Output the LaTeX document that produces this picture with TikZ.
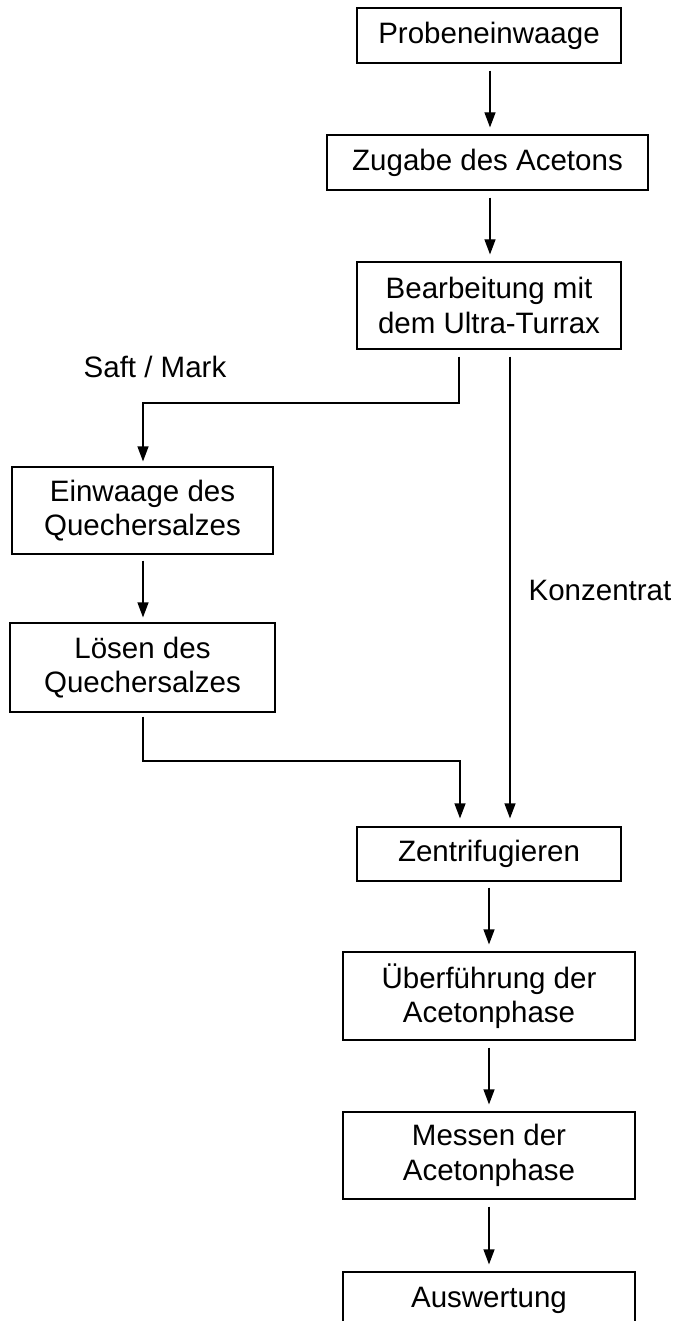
\documentclass[tikz,border=0pt]{standalone}
\usepackage{fontspec}
\setmainfont{Liberation Sans}
\usetikzlibrary{arrows.meta}
\begin{document}
\begin{tikzpicture}[x=1pt,y=-1pt,
  stepbox/.style={draw=black, line width=1.2pt, inner sep=0pt, align=center,
    font=\fontsize{29.5}{34.5}\selectfont},
  lbl/.style={inner sep=0pt, font=\fontsize{29.5}{34.5}\selectfont},
  arr/.style={draw=black, line width=1.2pt, -{Triangle[length=15pt,width=11pt]}}]
\useasboundingbox (0,0) rectangle (677,1321);
\node[stepbox, minimum width=264pt, minimum height=55pt] (b1) at (489,35.5) {Probeneinwaage};
\node[stepbox, minimum width=321pt, minimum height=55pt] (b2) at (487.5,162.5) {Zugabe des Acetons};
\node[stepbox, minimum width=264pt, minimum height=87pt] (b3) at (489,305.5) {Bearbeitung mit\\dem Ultra-Turrax};
\node[stepbox, minimum width=261pt, minimum height=87pt] (b4) at (142.5,510.5) {Einwaage des\\Quechersalzes};
\node[stepbox, minimum width=265pt, minimum height=89pt] (b5) at (142.5,667.5) {Lösen des\\Quechersalzes};
\node[stepbox, minimum width=264pt, minimum height=54pt] (b6) at (489,854) {Zentrifugieren};
\node[stepbox, minimum width=292pt, minimum height=88pt] (b7) at (489,996) {Überführung der\\Acetonphase};
\node[stepbox, minimum width=292pt, minimum height=87pt] (b8) at (489,1155.5) {Messen der\\Acetonphase};
\node[stepbox, minimum width=292pt, minimum height=56pt] (b9) at (489,1300) {Auswertung};
\node[lbl] (saft) at (155,367) {Saft / Mark};
\node[lbl] (konz) at (600,590) {Konzentrat};
\coordinate (s1) at (459,403);
\coordinate (s2) at (143,403);
\coordinate (l1) at (460,761);
\draw[arr] ([xshift=1pt,yshift=-7pt]b1.south) -- ([xshift=2.5pt,yshift=7pt]b2.north);
\draw[arr] ([xshift=2.5pt,yshift=-7pt]b2.south) -- ([xshift=1pt,yshift=7pt]b3.north);
\draw[arr] ([xshift=-30pt,yshift=-7pt]b3.south) -- (s1) -- (s2) -- ([xshift=0.5pt,yshift=5pt]b4.north);
\draw[arr] ([xshift=0.5pt,yshift=-6pt]b4.south) -- ([xshift=0.5pt,yshift=5pt]b5.north);
\draw[arr] ([xshift=0.5pt,yshift=-4pt]b5.south) |- (l1) -- ([yshift=8pt]b6.north -| l1);
\draw[arr] ([xshift=21pt,yshift=-7pt]b3.south) -- ([xshift=21pt,yshift=8pt]b6.north);
\draw[arr] ([yshift=-6pt]b6.south) -- ([yshift=7pt]b7.north);
\draw[arr] ([yshift=-7pt]b7.south) -- ([yshift=7pt]b8.north);
\draw[arr] ([yshift=-7pt]b8.south) -- ([yshift=7pt]b9.north);
\end{tikzpicture}
\end{document}
